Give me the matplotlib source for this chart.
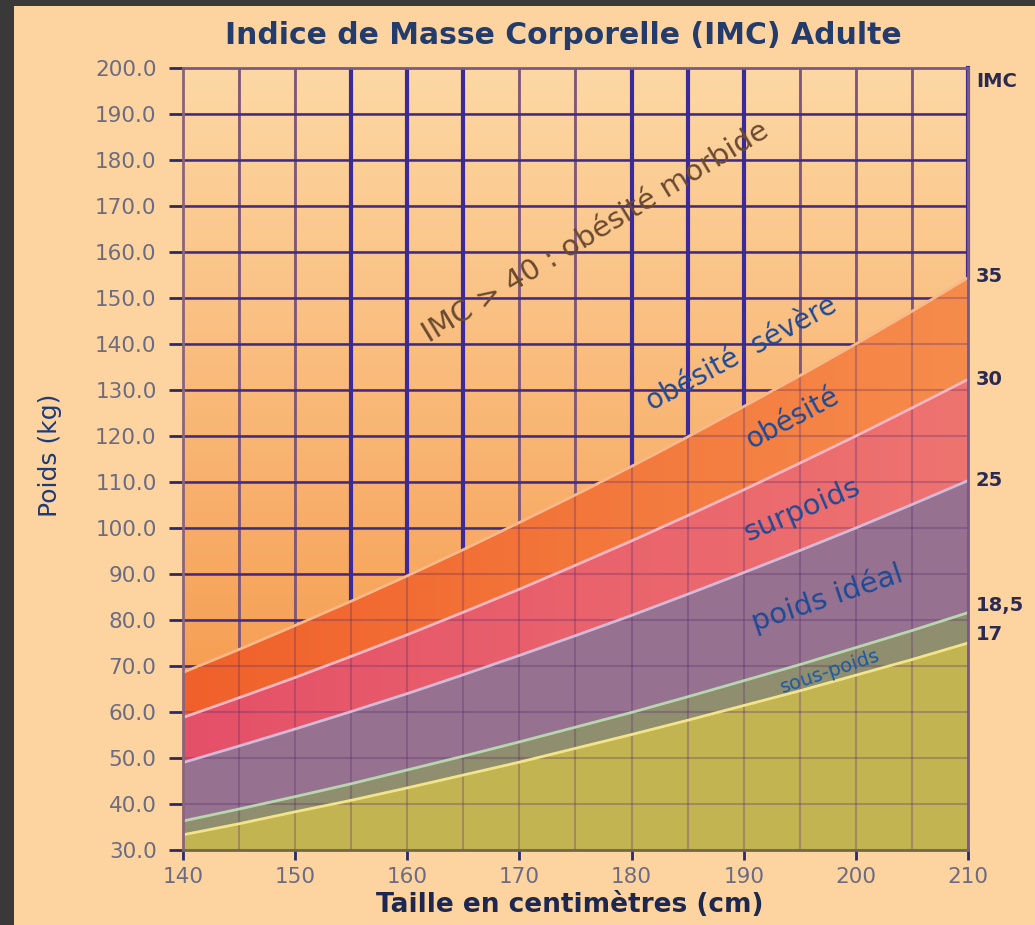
#!/usr/bin/env python3
"""Abaque IMC adulte : poids (kg) en fonction de la taille (cm)."""

import matplotlib

matplotlib.use("Agg")
import matplotlib.pyplot as plt
import numpy as np
from matplotlib.patches import Rectangle

heights = [140, 145, 150, 155, 160, 165, 170, 175, 180, 185, 190, 195, 200, 205, 210]
w_17 = [33.3, 35.7, 38.3, 40.8, 43.5, 46.3, 49.1, 52.1, 55.1, 58.2, 61.4, 64.6, 68.0, 71.4, 75.0]
w_18_5 = [36.3, 38.9, 41.6, 44.4, 47.4, 50.4, 53.5, 56.7, 59.9, 63.3, 66.8, 70.3, 74.0, 77.7, 81.6]
w_25 = [49.0, 52.6, 56.3, 60.1, 64.0, 68.1, 72.3, 76.6, 81.0, 85.6, 90.3, 95.1, 100.0, 105.1, 110.3]
w_30 = [58.8, 63.1, 67.5, 72.1, 76.8, 81.7, 86.7, 91.9, 97.2, 102.7, 108.3, 114.1, 120.0, 126.1, 132.3]
w_35 = [68.6, 73.6, 78.8, 84.1, 89.6, 95.3, 101.2, 107.2, 113.4, 119.8, 126.4, 133.1, 140.0, 147.1, 154.4]

imc_labels = ["35", "30", "25", "18,5", "17"]
x_ticks = [140, 150, 160, 170, 180, 190, 200, 210]
y_ticks = [30, 40, 50, 60, 70, 80, 90, 100, 110, 120, 130, 140, 150, 160, 170, 180, 190, 200]
bold_cols = [155, 160, 165, 180, 185, 190]

BLUE = "#3b2a9c"
HLINE = "#3f2c82"
BROWN = "#7e5678"


def gradient(c0, c1, n=256, vertical=True):
    c0 = np.array(matplotlib.colors.to_rgb(c0))
    c1 = np.array(matplotlib.colors.to_rgb(c1))
    t = np.linspace(0, 1, n)[:, None]
    g = c0 + (c1 - c0) * t
    return g[:, None, :] if vertical else g[None, :, :]


fig = plt.figure(figsize=(10.35, 9.25), dpi=100)
fig.patch.set_facecolor("#393939")
fig.add_artist(Rectangle((14 / 1035, 0), 1, 919 / 925, transform=fig.transFigure,
                         facecolor="#fdd4a0", edgecolor="none", zorder=-5))

ax = fig.add_axes([183 / 1035, 1 - 850 / 925, 785 / 1035, 782 / 925])
h = np.array(heights)
extent = [140, 210, 30, 200]

# fond dégradé
ax.imshow(gradient("#f48e3c", "#fdd8a4"), extent=extent, origin="lower",
          aspect="auto", zorder=0)

# bandes d'IMC
ax.fill_between(h, 30, w_17, color="#c3b452", lw=0, zorder=1)
ax.fill_between(h, w_17, w_18_5, color="#8f8e6e", lw=0, zorder=1)
ax.fill_between(h, w_18_5, w_25, color="#967290", lw=0, zorder=1)
pink = ax.fill_between(h, w_25, w_30, color="#e8626a", lw=0, zorder=1)
orange = ax.fill_between(h, w_30, w_35, color="#f37030", lw=0, zorder=1)
for poly, c0, c1 in [(pink, "#e45068", "#ee7470"), (orange, "#f0602a", "#f68c4c")]:
    im = ax.imshow(gradient(c0, c1, vertical=False), extent=extent, origin="lower",
                   aspect="auto", zorder=1.5)
    im.set_clip_path(poly.get_paths()[0], transform=ax.transData)

# quadrillage atténué sous les bandes
for x in range(140, 211, 5):
    ax.axvline(x, color="#5a2a70", alpha=0.3, lw=1.5, zorder=2)
for y in y_ticks:
    ax.axhline(y, color="#5a2a70", alpha=0.3, lw=1.5, zorder=2)

# quadrillage net au-dessus de la courbe IMC 35
for i, x in enumerate(heights[1:-1], start=1):
    bold = x in bold_cols
    ax.plot([x, x], [w_35[i], 200], color=BLUE if bold else BROWN,
            lw=3 if bold else 2, zorder=3, solid_capstyle="butt")
ax.plot([210, 210], [w_35[-1], 200], color=BLUE, lw=3, zorder=3, clip_on=False)
for y in y_ticks[4:-1]:
    xe = np.interp(y, w_35, heights)
    ax.plot([140, xe], [y, y], color=HLINE, lw=1.8, zorder=3, solid_capstyle="butt")

# courbes de seuil
for w, c in [(w_35, "#f9b888"), (w_30, "#f8b6c4"), (w_25, "#d6b8d8"),
             (w_18_5, "#b8d6b0"), (w_17, "#f2e48a")]:
    ax.plot(h, w, color=c, lw=2, zorder=4)

ax.set_xlim(140, 210)
ax.set_ylim(30, 200)
ax.set_xticks(x_ticks)
ax.set_yticks(y_ticks)
ax.set_yticklabels([f"{v:.1f}" for v in y_ticks])
ax.tick_params(axis="y", length=10, width=2, color="#2a2a66", labelsize=15.5,
               labelcolor="#6b6b82", pad=9)
ax.tick_params(axis="x", length=7, width=2, color="#2a2a66", labelsize=15.5,
               labelcolor="#6b6b82", pad=5)
ax.spines["left"].set_color("#8a6478")
ax.spines["bottom"].set_color("#6e6a52")
ax.spines["top"].set_color("#7a5a80")
ax.spines["right"].set_color("#7a5a80")
for s in ax.spines.values():
    s.set_linewidth(2)
    s.set_zorder(5)

# étiquettes IMC à droite
txt = dict(fontsize=14, fontweight="bold", color="#2a2a52", va="center",
           ha="left", clip_on=False)
ax.text(210.7, 197, "IMC", **txt)
ax.text(210.7, w_35[-1] + 0.3, imc_labels[0], **txt)
ax.text(210.7, w_30[-1], imc_labels[1], **txt)
ax.text(210.7, w_25[-1], imc_labels[2], **txt)
ax.text(210.7, w_18_5[-1] + 1.6, imc_labels[3], **txt)
ax.text(210.7, w_17[-1] + 1.8, imc_labels[4], **txt)

# libellés des zones
zone = dict(ha="center", va="center", rotation_mode="anchor", zorder=6)
ax.text(176.8, 164.3, "IMC > 40 : obésité morbide", rotation=31.3, fontsize=21,
        color="#6a4a30", **zone)
ax.text(189.8, 138.0, "obésité  sévère", rotation=28.3, fontsize=20,
        color="#1e4a96", **zone)
ax.text(194.4, 123.9, "obésité", rotation=28, fontsize=20, color="#1e4a96", **zone)
ax.text(195.2, 103.9, "surpoids", rotation=23, fontsize=21, color="#1e4a96", **zone)
ax.text(197.4, 84.8, "poids idéal", rotation=18.6, fontsize=21, color="#1e4a96", **zone)
ax.text(197.7, 68.7, "sous-poids", rotation=18.5, fontsize=14, color="#1a5aa8", **zone)

fig.text(563 / 1035, 1 - 35 / 925, "Indice de Masse Corporelle (IMC) Adulte",
         ha="center", va="center", fontsize=21.5, fontweight="bold", color="#243c6c")
fig.text(50 / 1035, 1 - 455 / 925, "Poids (kg)", rotation=90, ha="center",
         va="center", fontsize=18, color="#1e3a7a")
fig.text(570 / 1035, 1 - 905 / 925, "Taille en centimètres (cm)", ha="center",
         va="center", fontsize=19, fontweight="bold", color="#1c2850")

fig.savefig("out.png", dpi=100, facecolor=fig.get_facecolor())
